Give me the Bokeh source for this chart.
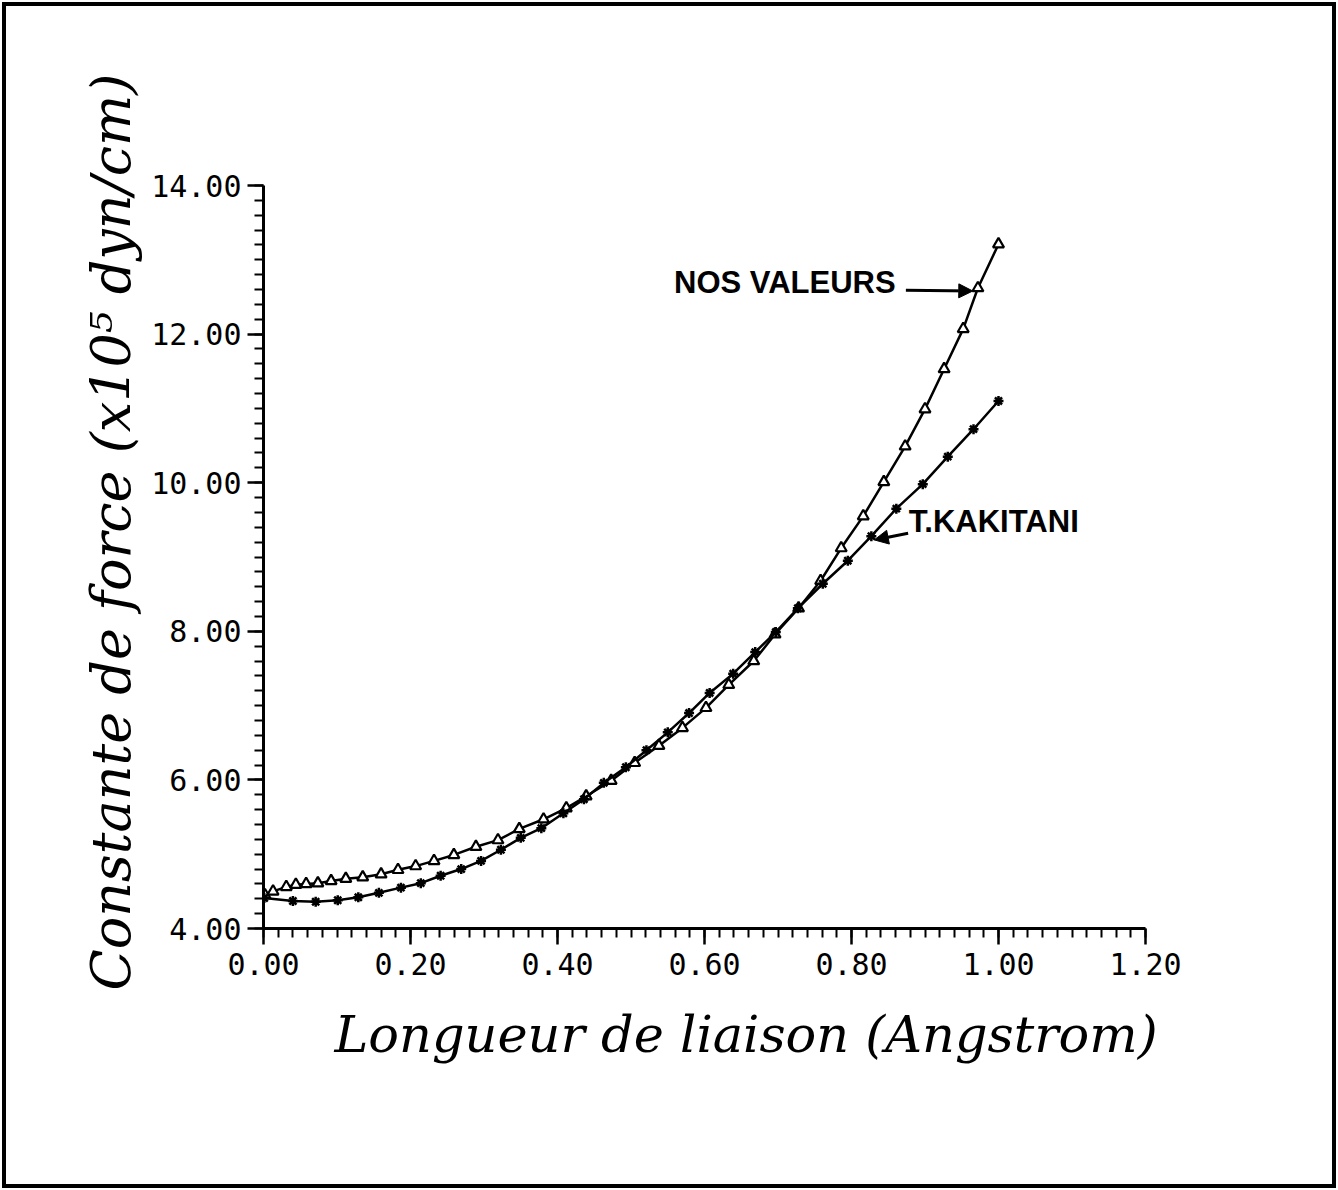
from bokeh.plotting import figure
from bokeh.models import Range1d, FixedTicker, Arrow, NormalHead, Label, Title
from bokeh.embed import file_html
from bokeh.resources import INLINE
import numpy as np

# --- data ---
x_nos = [0.002, 0.013, 0.031, 0.044, 0.058, 0.074, 0.092, 0.112, 0.135, 0.160,
         0.183, 0.207, 0.232, 0.259, 0.289, 0.319, 0.348, 0.381, 0.412, 0.439,
         0.473, 0.505, 0.538, 0.570, 0.602, 0.633, 0.667, 0.696, 0.728, 0.758,
         0.786, 0.816, 0.844, 0.873, 0.900, 0.926, 0.952, 0.972, 1.000]
y_nos = [4.45, 4.50, 4.56, 4.59, 4.60, 4.61, 4.64, 4.67, 4.69, 4.73,
         4.79, 4.84, 4.91, 4.99, 5.10, 5.19, 5.34, 5.47, 5.62, 5.78,
         5.99, 6.23, 6.46, 6.70, 6.97, 7.28, 7.60, 7.96, 8.31, 8.68,
         9.12, 9.55, 10.01, 10.49, 10.99, 11.53, 12.07, 12.62, 13.21]

x_kak = [0.001, 0.040, 0.071, 0.101, 0.129, 0.157, 0.187, 0.214, 0.241, 0.269,
         0.296, 0.323, 0.350, 0.378, 0.408, 0.436, 0.463, 0.493, 0.521, 0.550,
         0.579, 0.607, 0.639, 0.669, 0.697, 0.727, 0.761, 0.795, 0.827, 0.861,
         0.897, 0.931, 0.966, 1.000]
y_kak = [4.41, 4.37, 4.36, 4.38, 4.42, 4.48, 4.55, 4.61, 4.71, 4.80,
         4.91, 5.06, 5.22, 5.35, 5.55, 5.74, 5.96, 6.17, 6.40, 6.64,
         6.90, 7.17, 7.43, 7.72, 7.99, 8.31, 8.64, 8.95, 9.28, 9.65,
         9.98, 10.35, 10.72, 11.10]

x_major = [0.0, 0.2, 0.4, 0.6, 0.8, 1.0, 1.2]
x_tick_labels = ["0.00", "0.20", "0.40", "0.60", "0.80", "1.00", "1.20"]
y_major = [4, 6, 8, 10, 12, 14]
y_tick_labels = ["4.00", "6.00", "8.00", "10.00", "12.00", "14.00"]

label_nos = "NOS VALEURS"
label_kak = "T.KAKITANI"
x_title = "Longueur de liaison (Angstrom)"
y_title = "Constante de force (x10\u2075 dyn/cm)"

# --- figure ---
W, H = 1334, 1186
p = figure(width=W, height=H, output_backend="svg", toolbar_location=None,
           x_range=Range1d(0, 1.2), y_range=Range1d(4, 14),
           min_border_left=257, min_border_right=195,
           min_border_top=179, min_border_bottom=264)
p.styles = {"border": "4px solid black", "margin-left": "2px", "margin-top": "2px"}
p.outline_line_color = None
p.xgrid.visible = False
p.ygrid.visible = False
p.background_fill_color = "white"
p.border_fill_color = "white"

x_minor = [round(v, 2) for v in np.arange(0, 1.2001, 0.02)]
y_minor = [round(v, 1) for v in np.arange(4, 14.001, 0.2)]
p.xaxis.ticker = FixedTicker(ticks=x_major, minor_ticks=x_minor)
p.yaxis.ticker = FixedTicker(ticks=y_major, minor_ticks=y_minor)
p.xaxis.major_label_overrides = {v: s for v, s in zip(x_major, x_tick_labels)}
p.yaxis.major_label_overrides = {v: s for v, s in zip(y_major, y_tick_labels)}

for ax in (p.xaxis[0], p.yaxis[0]):
    ax.axis_line_color = "black"
    ax.axis_line_width = 3
    ax.major_tick_line_color = "black"
    ax.major_tick_line_width = 2.5
    ax.minor_tick_line_color = "black"
    ax.minor_tick_line_width = 2
    ax.major_tick_in = 0
    ax.minor_tick_in = 0
    ax.major_tick_out = 16
    ax.minor_tick_out = 9
    ax.major_label_text_font = "DejaVu Sans Mono"
    ax.major_label_text_font_size = "30px"
    ax.major_label_text_color = "black"

p.xaxis.major_label_standoff = 8
p.yaxis.major_label_standoff = 6

# axis titles, placed off-centre like the original
p.add_layout(Title(text=x_title, align="left", offset=71, standoff=50,
                   text_font="DejaVu Serif", text_font_style="italic",
                   text_font_size="51px", text_color="black"), "below")
p.add_layout(Title(text=y_title, align="left", offset=-62, standoff=12,
                   text_font="DejaVu Serif", text_font_style="italic",
                   text_font_size="54px", text_color="black"), "left")

# --- series ---
p.line(x_nos, y_nos, line_color="black", line_width=2.5)
p.scatter(x_nos, y_nos, marker="triangle", size=11, fill_color="white",
          line_color="black", line_width=2.2)
p.line(x_kak, y_kak, line_color="black", line_width=2.5)
p.scatter(x_kak, y_kak, marker="asterisk", size=10, line_color="black", line_width=2.5)

# --- annotations ---
p.add_layout(Label(x=0.5585, y=12.69, text=label_nos, text_font="Liberation Sans",
                   text_font_style="bold", text_font_size="31px",
                   text_baseline="middle", text_align="left", text_color="black"))
p.add_layout(Arrow(x_start=0.874, y_start=12.59, x_end=0.965, y_end=12.58,
                   line_width=3, line_color="black",
                   end=NormalHead(size=14, fill_color="black", line_color="black")))
p.add_layout(Label(x=0.878, y=9.48, text=label_kak, text_font="Liberation Sans",
                   text_font_style="bold", text_font_size="31px",
                   text_baseline="middle", text_align="left", text_color="black"))
p.add_layout(Arrow(x_start=0.877, y_start=9.32, x_end=0.831, y_end=9.23,
                   line_width=3, line_color="black",
                   end=NormalHead(size=14, fill_color="black", line_color="black")))

open("out.html", "w").write(file_html(p, INLINE))
